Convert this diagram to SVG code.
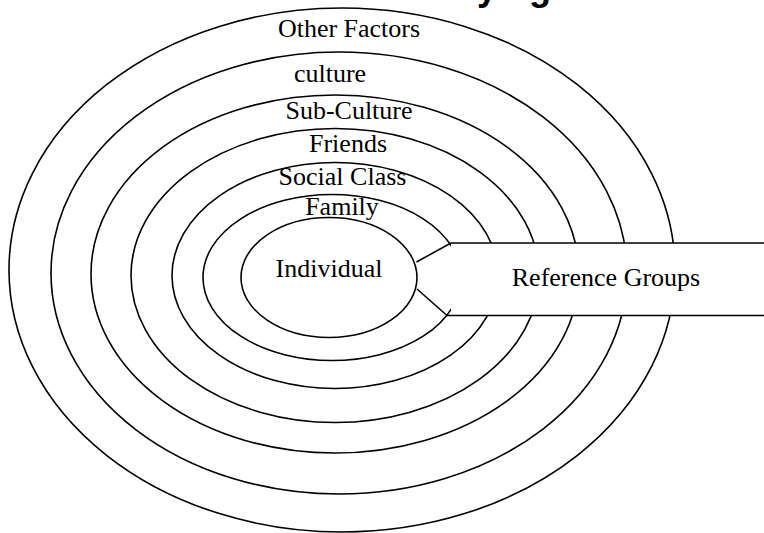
<svg xmlns="http://www.w3.org/2000/svg" width="764" height="533" viewBox="0 0 764 533">
  <style>
    .ring { fill: #ffffff; stroke: #000000; stroke-width: 1.6; }
    .lbl { font-family: "Liberation Serif", "Times New Roman", serif; font-size: 26px; fill: #000000; text-anchor: middle; }
    .edge { stroke: #000000; stroke-width: 1.6; fill: none; }
    .title { font-family: "Liberation Sans", Arial, sans-serif; font-size: 36px; font-weight: bold; fill: #000000; }
  </style>
  <rect x="0" y="0" width="764" height="533" fill="#ffffff"/>
  <text class="title" x="429" y="-0.5">Buying</text>

  <g id="other-factors">
    <ellipse class="ring" cx="342" cy="270" rx="333" ry="262"/>
    <text class="lbl" x="349" y="37">Other Factors</text>
  </g>
  <g id="culture">
    <ellipse class="ring" cx="339" cy="273" rx="288" ry="221"/>
    <text class="lbl" x="330" y="82">culture</text>
  </g>
  <g id="sub-culture">
    <ellipse class="ring" cx="335" cy="274" rx="244" ry="179"/>
    <text class="lbl" x="349" y="119">Sub-Culture</text>
  </g>
  <g id="friends">
    <ellipse class="ring" cx="335" cy="275.5" rx="204" ry="147"/>
    <text class="lbl" x="348" y="152">Friends</text>
  </g>
  <g id="social-class">
    <ellipse class="ring" cx="335" cy="275.5" rx="163" ry="113"/>
    <text class="lbl" x="342.5" y="185">Social Class</text>
  </g>
  <g id="family">
    <ellipse class="ring" cx="332" cy="277.5" rx="129" ry="83"/>
  </g>
  <g id="reference-groups">
    <rect x="451" y="243" width="320" height="72" fill="#ffffff" stroke="none"/>
    <line class="edge" x1="451" y1="243" x2="764" y2="243"/>
    <line class="edge" x1="447" y1="315.5" x2="764" y2="315.5"/>
    <text class="lbl" x="606" y="286">Reference Groups</text>
  </g>
  <g id="individual">
    <ellipse class="ring" cx="329" cy="277.5" rx="88" ry="60"/>
    <text class="lbl" x="329" y="277">Individual</text>
  </g>
  <g id="family-label">
    <text class="lbl" x="342" y="215">Family</text>
  </g>
  <g id="connectors">
    <line class="edge" x1="416.5" y1="262" x2="451" y2="243"/>
    <line class="edge" x1="417" y1="289" x2="447" y2="315.5"/>
  </g>
</svg>
